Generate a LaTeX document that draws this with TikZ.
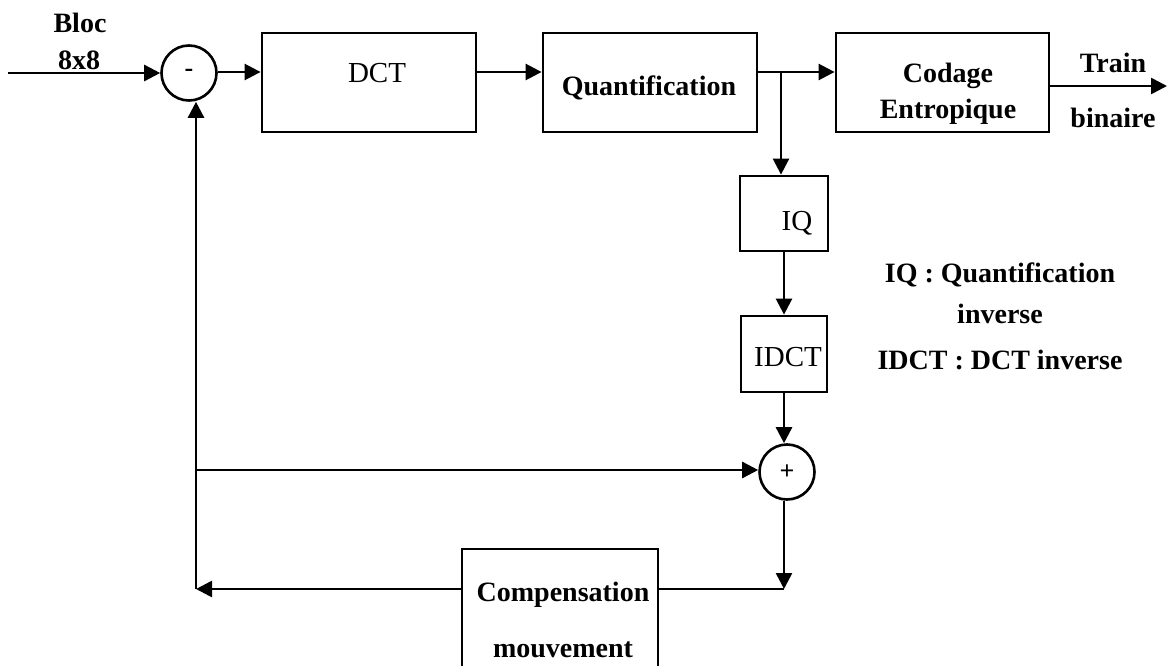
\documentclass[tikz,border=0pt]{standalone}
\usepackage{fontspec}
\setmainfont{Liberation Serif}
\usetikzlibrary{arrows.meta}

\begin{document}
\begin{tikzpicture}[x=1pt,y=-1pt,
  blk/.style={draw,line width=2.8pt,inner sep=0pt},
  sum/.style={draw,circle,line width=2.6pt,minimum size=55pt,inner sep=0pt,font=\fontsize{26}{30}\selectfont\bfseries},
  txt/.style={font=\fontsize{28}{36}\selectfont\bfseries,inner sep=0pt,align=center},
  ctxt/.style={font=\fontsize{29}{36}\selectfont,inner sep=0pt,align=center},
  arr/.style={line width=2.6pt,-{Triangle[length=16pt,width=16pt]}},
  ln/.style={line width=2.6pt}]
  \useasboundingbox (0,0) rectangle (1169,666);

  % blocs
  \node[sum] (moins) at (189,73) {-};
  \node[blk,minimum width=214,minimum height=99] (dct) at (369,82.5) {};
  \node[blk,minimum width=214,minimum height=99] (quant) at (650,82.5) {};
  \node[blk,minimum width=213,minimum height=99] (codage) at (942.5,82.5) {};
  \node[blk,minimum width=88,minimum height=75] (iq) at (784,213.5) {};
  \node[blk,minimum width=86,minimum height=76] (idct) at (784,354) {};
  \node[sum] (plus) at (787,472) {+};
  \node[blk,minimum width=196,minimum height=140] (comp) at (560,619) {};

  % textes
  \node[txt] (bloc) at (80,23) {Bloc};
  \node[txt] (taille) at (79,60) {8x8};
  \node[ctxt] (dcttxt) at (377,73) {DCT};
  \node[txt] (quanttxt) at (649,88) {Quantification};
  \node[txt] (codagetxt) at (948,94) {Codage\\Entropique};
  \node[ctxt] (iqtxt) at (797,223) {IQ};
  \node[ctxt] (idcttxt) at (788,357) {IDCT};
  \node[txt] (comptxt) at (563,620) {Compensation\\[20pt]mouvement};
  \node[txt] (train) at (1113,63) {Train};
  \node[txt] (binaire) at (1113,118) {binaire};
  \node[txt] (leg1) at (1000,275) {IQ : Quantification};
  \node[txt] (leg2) at (1000,314) {inverse};
  \node[txt] (leg3) at (1000,360) {IDCT : DCT inverse};

  % points de passage
  \coordinate (entree) at (8,73);
  \coordinate (ligne) at (0,72);
  \coordinate (br) at (781,72);
  \coordinate (sortie) at (1167,86);
  \coordinate (c1) at (784,589);
  \coordinate (c2) at (196,589);
  \coordinate (c3) at (196,470);

  % liaisons
  \draw[arr] (entree) -- (moins.west);
  \draw[arr] (moins.east |- ligne) -- (dct.west |- ligne);
  \draw[arr] (dct.east |- ligne) -- (quant.west |- ligne);
  \draw[arr] (quant.east |- ligne) -- (codage.west |- ligne);
  \draw[arr] (br) -- (br |- iq.north);
  \draw[arr] (iq.south) -- (idct.north);
  \draw[arr] (idct.south) -- (idct.south |- plus.north);
  \draw[arr] (codage.east |- sortie) -- (sortie);
  \draw[arr] (plus.south -| c1) -- (c1);
  \draw[ln] (c1) -- (comp.east |- c1);
  \draw[arr] (comp.west |- c2) -- (c2);
  \draw[arr] (c2) -- (c2 |- moins.south);
  \draw[arr] (c3) -- (c3 -| plus.west);
\end{tikzpicture}
\end{document}
